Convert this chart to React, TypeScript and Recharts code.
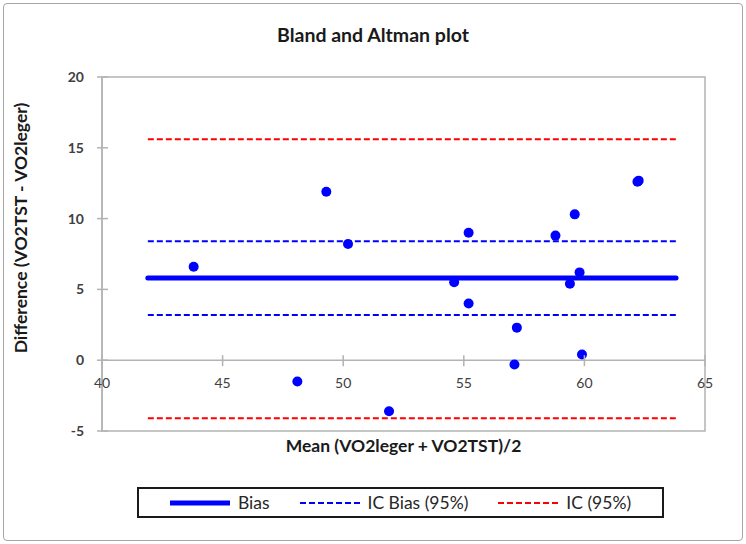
import { ScatterChart, Scatter, XAxis, YAxis, ReferenceLine, ReferenceArea } from 'recharts'

// mean of the two methods (x) and their difference (y), one per subject
const meanValues = [43.8, 48.1, 49.3, 50.2, 51.9, 54.6, 55.2, 55.2, 57.1, 57.2, 58.8, 59.4, 59.6, 59.8, 59.9, 62.2, 62.25]
const diffValues = [6.6, -1.5, 11.9, 8.2, -3.6, 5.5, 9.0, 4.0, -0.3, 2.3, 8.8, 5.4, 10.3, 6.2, 0.4, 12.6, 12.68]

const xTicks = [40, 45, 50, 55, 60, 65]
const yTicks = [-5, 0, 5, 10, 15, 20]

const bias = 5.8
const icBias = [3.2, 8.4]
const ic = [-4.1, 15.6]
const lineSpan = [41.9, 63.8]

const W = 746
const H = 544
const margin = { top: 77, right: 41, bottom: 83, left: 42 }
const yAxisW = 60
const xAxisH = 30
const plotH = H - margin.top - margin.bottom - xAxisH
const zeroShift = (plotH * (0 - yTicks[0])) / (yTicks[yTicks.length - 1] - yTicks[0])

const points = meanValues.map((m, i) => ({ x: m, y: diffValues[i] }))

const axisGray = '#b3b3b3'
const font = 'Lato, "Open Sans", sans-serif'

const XTick = (props: any) => {
  const { x, y, payload } = props
  const y0 = y - zeroShift
  return (
    <g>
      <line x1={x} x2={x} y1={y0 - 5} y2={y0 + 6} stroke={axisGray} strokeWidth={1.5} />
      <text x={x} y={y0 + 28} textAnchor="middle" fontSize={14} fill="#404040" fontFamily={font}>
        {payload.value}
      </text>
    </g>
  )
}

const YTick = (props: any) => {
  const { x, y, payload } = props
  return (
    <g>
      <line x1={x - 5} x2={x + 6} y1={y} y2={y} stroke={axisGray} strokeWidth={1.5} />
      <text x={x - 18} y={y + 5} textAnchor="end" fontSize={14} fontWeight="bold" fill="#404040" fontFamily={font}>
        {payload.value}
      </text>
    </g>
  )
}

const Dot = (props: any) => <circle cx={props.cx} cy={props.cy} r={5} fill="#0000ff" />

const LegendLine = ({ color, dashed, thick }: { color: string; dashed?: boolean; thick?: boolean }) => (
  <svg width={60} height={10} style={{ display: 'block' }}>
    <line
      x1={0}
      x2={60}
      y1={5}
      y2={5}
      stroke={color}
      strokeWidth={thick ? 5 : 2}
      strokeDasharray={dashed ? '6 3' : undefined}
    />
  </svg>
)

export default function App() {
  return (
    <div
      style={{
        position: 'absolute',
        left: 0,
        top: 0,
        width: W,
        height: H,
        background: '#fff',
        fontFamily: font,
      }}
    >
      <div
        style={{
          position: 'absolute',
          left: 3,
          top: 3,
          width: W - 8,
          height: H - 8,
          border: '1.5px solid #a6a6a6',
          borderRadius: 4,
        }}
      />
      <div
        style={{
          position: 'absolute',
          left: 0,
          width: W,
          top: 23,
          textAlign: 'center',
          fontSize: 19.5,
          fontWeight: 'bold',
          color: '#1a1a1a',
        }}
      >
        Bland and Altman plot
      </div>

      <ScatterChart width={W} height={H} margin={margin} style={{ position: 'absolute', left: 0, top: 0 }}>
        <XAxis
          type="number"
          dataKey="x"
          domain={[40, 65]}
          ticks={xTicks}
          height={xAxisH}
          axisLine={false}
          tickLine={false}
          tickSize={0}
          tickMargin={0}
          tick={<XTick />}
        />
        <YAxis
          type="number"
          dataKey="y"
          domain={[-5, 20]}
          ticks={yTicks}
          width={yAxisW}
          axisLine={{ stroke: axisGray, strokeWidth: 1.5 }}
          tickLine={false}
          tickSize={0}
          tickMargin={0}
          tick={<YTick />}
        />
        <ReferenceArea x1={40} x2={65} y1={-5} y2={20} fill="none" stroke={axisGray} strokeWidth={1.5} />
        <ReferenceLine y={0} stroke={axisGray} strokeWidth={1.5} />
        <ReferenceLine
          segment={[{ x: lineSpan[0], y: ic[1] }, { x: lineSpan[1], y: ic[1] }]}
          stroke="#ff0000"
          strokeWidth={2}
          strokeDasharray="6 3"
        />
        <ReferenceLine
          segment={[{ x: lineSpan[0], y: ic[0] }, { x: lineSpan[1], y: ic[0] }]}
          stroke="#ff0000"
          strokeWidth={2}
          strokeDasharray="6 3"
        />
        <ReferenceLine
          segment={[{ x: lineSpan[0], y: icBias[1] }, { x: lineSpan[1], y: icBias[1] }]}
          stroke="#0000ff"
          strokeWidth={2}
          strokeDasharray="6 3"
        />
        <ReferenceLine
          segment={[{ x: lineSpan[0], y: icBias[0] }, { x: lineSpan[1], y: icBias[0] }]}
          stroke="#0000ff"
          strokeWidth={2}
          strokeDasharray="6 3"
        />
        <ReferenceLine
          segment={[{ x: lineSpan[0], y: bias }, { x: lineSpan[1], y: bias }]}
          stroke="#0000ff"
          strokeWidth={5}
          strokeLinecap="round"
        />
        <Scatter data={points} fill="#0000ff" shape={<Dot />} isAnimationActive={false} />
      </ScatterChart>

      {/* axis titles */}
      <div
        style={{
          position: 'absolute',
          left: 102,
          width: 603,
          top: 435,
          textAlign: 'center',
          fontSize: 17.5,
          fontWeight: 'bold',
          color: '#1a1a1a',
        }}
      >
        Mean (VO2leger + VO2TST)/2
      </div>
      <div
        style={{
          position: 'absolute',
          left: 20,
          top: 228,
          transform: 'translate(-50%, -50%) rotate(-90deg)',
          whiteSpace: 'nowrap',
          fontSize: 17.5,
          fontWeight: 'bold',
          color: '#1a1a1a',
        }}
      >
        Difference (VO2TST - VO2leger)
      </div>

      {/* legend */}
      <div
        style={{
          position: 'absolute',
          left: 137,
          top: 487,
          width: 527,
          height: 31,
          boxSizing: 'border-box',
          border: '2px solid #1a1a1a',
          display: 'flex',
          alignItems: 'center',
          justifyContent: 'center',
          fontSize: 17.5,
          color: '#262626',
        }}
      >
        <LegendLine color="#0000ff" thick />
        <span style={{ marginLeft: 8, marginRight: 30 }}>Bias</span>
        <LegendLine color="#0000ff" dashed />
        <span style={{ marginLeft: 8, marginRight: 30 }}>IC Bias (95%)</span>
        <LegendLine color="#ff0000" dashed />
        <span style={{ marginLeft: 8 }}>IC (95%)</span>
      </div>
    </div>
  )
}
